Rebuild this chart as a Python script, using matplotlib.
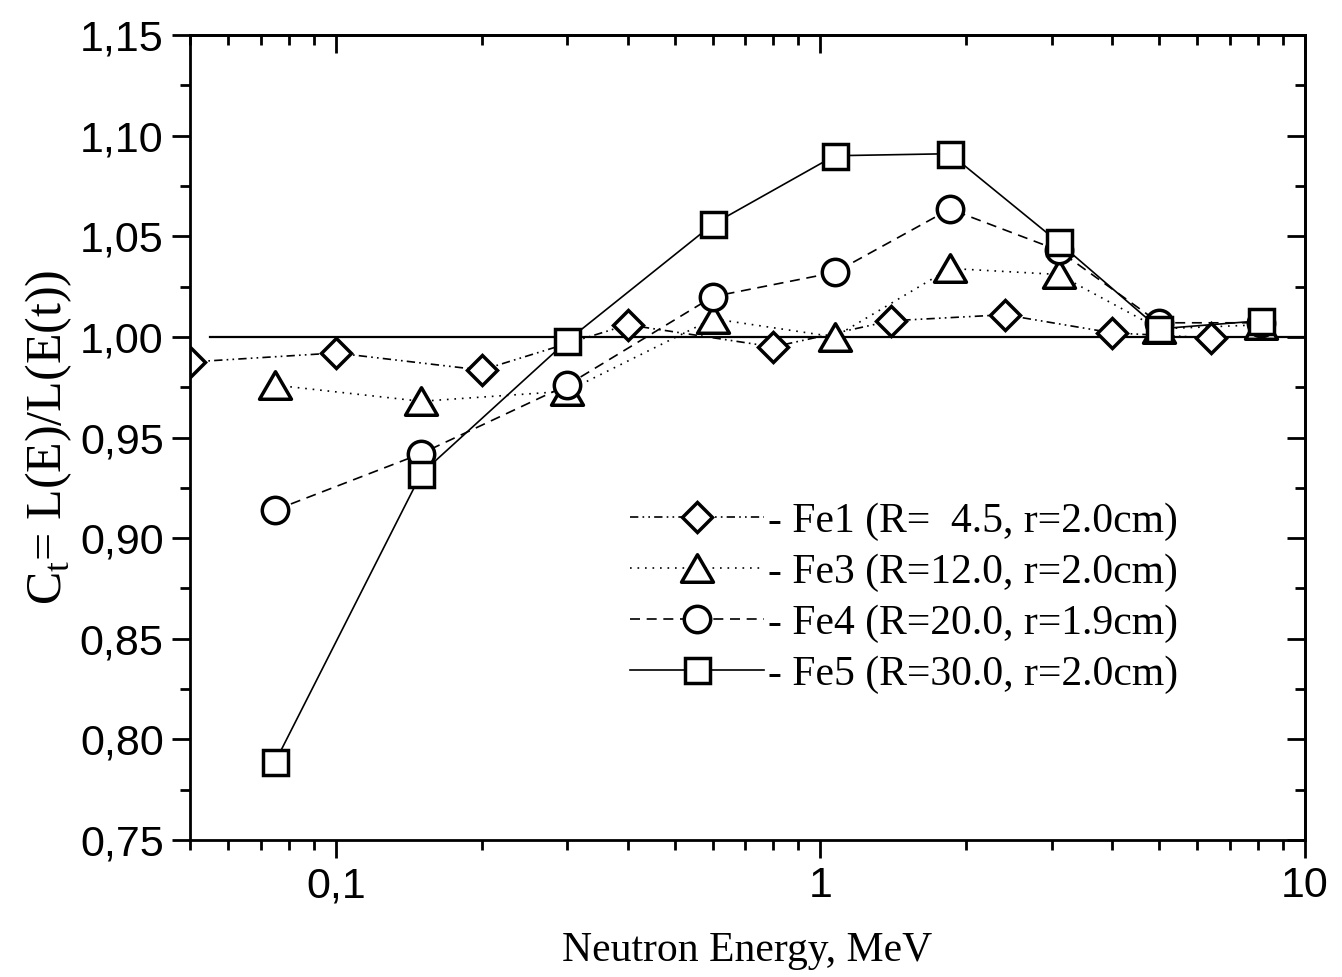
import matplotlib
matplotlib.use('Agg')
import matplotlib.pyplot as plt
from matplotlib.path import Path
from matplotlib.ticker import FixedLocator, FixedFormatter, LogLocator, NullFormatter, MultipleLocator

#energies (MeV) and correction factors
fe1_e = [0.05, 0.1, 0.2, 0.4, 0.8, 1.4, 2.4, 4.0, 6.4]
fe1_c = [0.9875, 0.992, 0.9835, 1.006, 0.995, 1.008, 1.011, 1.002, 0.9995]

fe_e = [0.075, 0.15, 0.3, 0.6, 1.07, 1.85, 3.1, 5.0, 8.1]
fe3_c = [0.976, 0.968, 0.973, 1.009, 1.000, 1.034, 1.031, 1.004, 1.006]
fe4_c = [0.914, 0.942, 0.976, 1.020, 1.032, 1.0635, 1.043, 1.007, 1.007]
fe5_c = [0.789, 0.932, 0.998, 1.056, 1.090, 1.091, 1.047, 1.004, 1.008]

ref_e = [0.055, 10]
ref_c = [1.0, 1.0]

labels = ['- Fe1 (R=  4.5, r=2.0cm)', '- Fe3 (R=12.0, r=2.0cm)',
          '- Fe4 (R=20.0, r=1.9cm)', '- Fe5 (R=30.0, r=2.0cm)']

yticks = [0.75, 0.80, 0.85, 0.90, 0.95, 1.00, 1.05, 1.10, 1.15]
xticks = [0.1, 1, 10]
xticklabels = ['0,1', '1', '10']

serif = ['Liberation Serif', 'DejaVu Serif']
sans = ['Liberation Sans', 'DejaVu Sans']

fig = plt.figure(figsize=(13.42, 9.77), dpi=100)
ax = fig.add_axes([0.1416, 0.1402, 0.8308, 0.824])

#slightly wide triangle, closed so the outline is complete
tri = Path([(-0.58, -0.5), (0.58, -0.5), (0.0, 0.5), (-0.58, -0.5)],
           [Path.MOVETO, Path.LINETO, Path.LINETO, Path.CLOSEPOLY])
mk = dict(markerfacecolor='white', markeredgecolor='black', markeredgewidth=2.5, color='black', linewidth=1.2)

ax.plot(ref_e, ref_c, color='black', linewidth=1.6, zorder=1)
ax.plot(fe1_e, fe1_c, linestyle=(0, (5, 2.5, 1, 2.5, 1, 2.5)), marker='D', markersize=15, label=labels[0], **mk)
ax.plot(fe_e, fe3_c, linestyle=(0, (1, 3.5)), marker=tri, markersize=23, label=labels[1], **mk)
ax.plot(fe_e, fe4_c, linestyle=(0, (6, 4)), marker='o', markersize=19, label=labels[2], **mk)
ax.plot(fe_e, fe5_c, linestyle='-', marker='s', markersize=18, label=labels[3], **mk)

ax.set_xscale('log')
ax.set_xlim(0.05, 10)
ax.set_ylim(0.75, 1.15)

ax.xaxis.set_major_locator(FixedLocator(xticks))
ax.xaxis.set_major_formatter(FixedFormatter(xticklabels))
ax.xaxis.set_minor_locator(LogLocator(base=10, subs=[2, 3, 4, 5, 6, 7, 8, 9]))
ax.xaxis.set_minor_formatter(NullFormatter())
ax.yaxis.set_major_locator(FixedLocator(yticks))
ax.yaxis.set_major_formatter(FixedFormatter([('%.2f' % v).replace('.', ',') for v in yticks]))
ax.yaxis.set_minor_locator(MultipleLocator(0.025))

ax.tick_params(which='major', direction='out', length=13, width=2, labelsize=31, pad=6)
ax.tick_params(which='minor', direction='out', length=7, width=2)
for lab in ax.get_xticklabels() + ax.get_yticklabels():
    lab.set_family(sans)

for sp in ax.spines.values():
    sp.set_linewidth(2)

#top and right axes have ticks pointing inwards
top = ax.secondary_xaxis('top')
top.xaxis.set_major_locator(FixedLocator(xticks))
top.xaxis.set_minor_locator(LogLocator(base=10, subs=[2, 3, 4, 5, 6, 7, 8, 9]))
top.xaxis.set_major_formatter(NullFormatter())
top.xaxis.set_minor_formatter(NullFormatter())
top.tick_params(which='major', direction='in', length=13, width=2)
top.tick_params(which='minor', direction='in', length=7, width=2)
top.spines['top'].set_linewidth(2)

right = ax.secondary_yaxis('right')
right.yaxis.set_major_locator(FixedLocator(yticks))
right.yaxis.set_minor_locator(MultipleLocator(0.025))
right.yaxis.set_major_formatter(NullFormatter())
right.tick_params(which='major', direction='in', length=13, width=2)
right.tick_params(which='minor', direction='in', length=7, width=2)
right.spines['right'].set_linewidth(2)

ax.set_xlabel('Neutron Energy, MeV', fontsize=30, family=serif, labelpad=18)
ax.set_ylabel(r'C$_\mathregular{t}$= L(E)/L(E(t))', fontsize=36, family=serif, labelpad=4)

leg = ax.legend(loc='upper left', bbox_to_anchor=(0.38, 0.44), frameon=False,
                prop={'family': serif, 'size': 30}, handlelength=3.2, handletextpad=0.1,
                labelspacing=0.3, borderaxespad=0)

fig.savefig('out.png', dpi=100)
